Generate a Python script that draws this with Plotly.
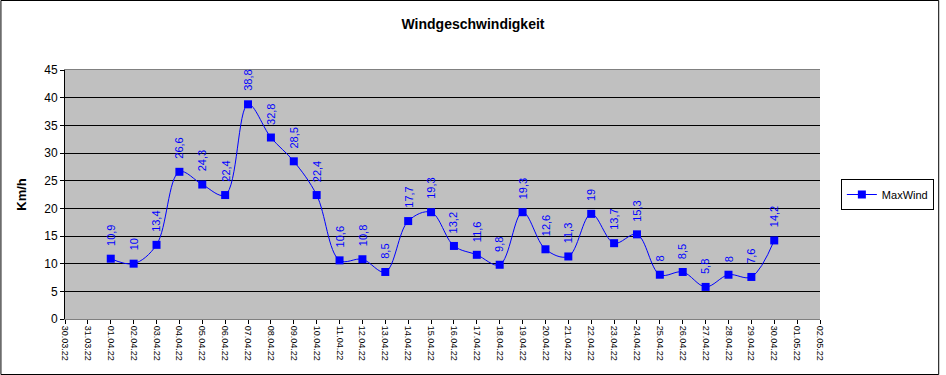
import plotly.graph_objects as go

dates = [f"2022-04-{d:02d}" for d in range(1, 31)]
max_wind = [10.9, 10, 13.4, 26.6, 24.3, 22.4, 38.8, 32.8, 28.5, 22.4,
            10.6, 10.8, 8.5, 17.7, 19.3, 13.2, 11.6, 9.8, 19.3, 12.6,
            11.3, 19, 13.7, 15.3, 8, 8.5, 5.8, 8, 7.6, 14.2]
x_range = ["2022-03-30", "2022-05-02"]
y_ticks = [0, 5, 10, 15, 20, 25, 30, 35, 40, 45]

FONT = "Arial, Liberation Sans, sans-serif"

def fmt(v):
    s = f"{v:g}"
    return s.replace(".", ",")

fig = go.Figure()
fig.add_trace(go.Scatter(
    x=dates, y=max_wind, name="MaxWind", mode="lines+markers",
    line=dict(color="#0000FF", width=1, shape="spline", smoothing=1.0),
    marker=dict(symbol="square", size=8, color="#0000FF"),
))

annotations = []
for d, v in zip(dates, max_wind):
    annotations.append(dict(
        x=d, y=v, xref="x", yref="y", text=fmt(v), showarrow=False,
        textangle=-90, yanchor="bottom", xanchor="center", yshift=11,
        font=dict(family=FONT, size=11, color="#0000FF"),
    ))

fig.update_layout(
    width=946, height=375,
    margin=dict(l=65, r=121, t=70, b=56),
    paper_bgcolor="white", plot_bgcolor="#C0C0C0",
    font=dict(family=FONT, size=12, color="black"),
    title=dict(text="<b>Windgeschwindigkeit</b>", x=0.5, xref="container",
               y=1 - 24 / 375, yref="container", yanchor="middle", xanchor="center",
               font=dict(family=FONT, size=14, color="black")),
    xaxis=dict(
        type="date", range=x_range, dtick=86400000, tick0="2022-03-30",
        tickformat="%d.%m.%y", tickangle=90, ticks="outside", ticklen=4,
        tickcolor="black", showgrid=False, showline=True, linecolor="#808080",
        mirror=True, tickfont=dict(family=FONT, size=9, color="black"), zeroline=False,
        automargin=False,
    ),
    yaxis=dict(
        range=[0, 45], tickvals=y_ticks, ticks="outside", ticklen=4, tickcolor="black",
        showgrid=True, gridcolor="black", gridwidth=1, showline=True, linecolor="black",
        zeroline=False, tickfont=dict(family=FONT, size=12, color="black"),
        title=dict(text="<b>Km/h</b>", font=dict(family=FONT, size=13, color="black"), standoff=14),
        automargin=False,
    ),
    legend=dict(x=(846 - 65) / 760, y=0.5, xanchor="left", yanchor="middle",
                bgcolor="white", bordercolor="black", borderwidth=1,
                font=dict(family=FONT, size=11, color="black")),
    showlegend=True,
    annotations=annotations,
)

fig.add_shape(type="rect", xref="paper", yref="paper",
              x0=-64.5 / 760, x1=(944.5 - 65) / 760,
              y0=-55.5 / 249, y1=1 + 69.5 / 249,
              line=dict(color="black", width=1), fillcolor="rgba(0,0,0,0)", layer="above")

fig.write_html("out.html", config={"displayModeBar": False},
               post_script="document.body.style.margin='0';")
